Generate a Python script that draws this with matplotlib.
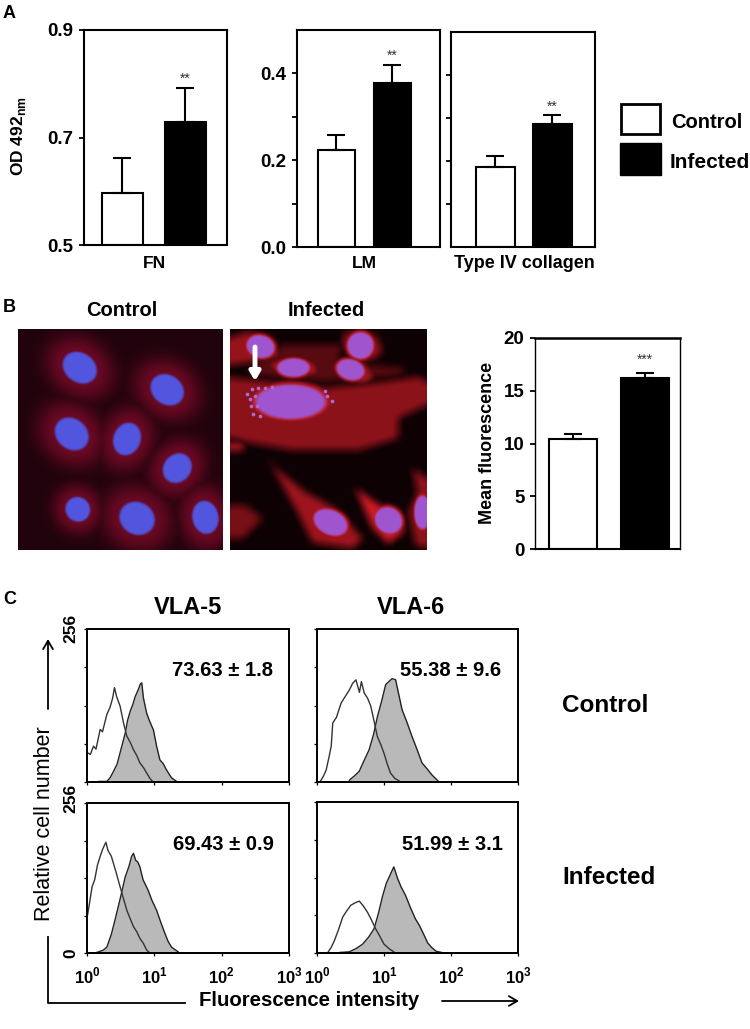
import numpy as np
import matplotlib
matplotlib.use("Agg")
import matplotlib.pyplot as plt
from matplotlib.patches import Rectangle
from matplotlib.path import Path

plt.rcParams['font.family'] = ['Liberation Sans', 'DejaVu Sans']
plt.rcParams['mathtext.fontset'] = 'custom'
plt.rcParams['mathtext.rm'] = 'Liberation Sans'
plt.rcParams['mathtext.bf'] = 'Liberation Sans:bold'

W, H = 750, 1029

# panel A values
fn_means = [0.597, 0.729]
fn_tops = [0.662, 0.792]
lm_means = [0.224, 0.379]
lm_tops = [0.257, 0.420]
col_means = [0.186, 0.286]
col_tops = [0.212, 0.307]

# panel B values
mf_means = [10.4, 16.2]
mf_tops = [10.9, 16.7]

# micrograph contents: x, y, long side, short side, angle (figure pixels)
control_nuclei = [(79, 368, 36, 29, 35), (166, 390, 35, 29, 35), (71, 434, 36, 30, 40),
                  (126, 439, 33, 27, -70), (176, 468, 31, 27, -50), (77, 509, 25, 24, 45),
                  (136, 518, 36, 32, 30), (204, 517, 33, 26, 80)]
infected_nuclei = [(260, 347, 28, 22, 15), (360, 346, 26, 26, 0), (293, 368, 32, 18, 0),
                   (350, 370, 28, 20, 15), (290, 402, 70, 34, 0), (330, 522, 35, 24, 25),
                   (388, 520, 28, 25, 35), (422, 512, 16, 33, 0)]
infected_cells = [
    [(230, 378), (252, 380), (325, 388), (382, 382), (418, 377), (427, 382), (427, 405), (398, 418), (398, 438),
     (358, 450), (292, 450), (245, 442), (230, 438)],
    [(230, 338), (248, 332), (272, 338), (282, 358), (258, 362), (230, 365)],
    [(345, 332), (375, 335), (382, 352), (372, 360), (352, 362), (342, 345)],
    [(282, 345), (342, 345), (338, 362), (402, 368), (405, 375), (325, 382), (245, 375), (258, 362)],
    [(268, 362), (292, 355), (315, 362), (320, 375), (288, 380), (268, 368)],
    [(328, 363), (358, 358), (375, 375), (365, 385), (342, 380)],
    [(267, 455), (275, 468), (305, 492), (335, 508), (362, 538), (352, 548), (312, 542), (297, 512), (275, 472)],
    [(355, 488), (375, 502), (402, 518), (403, 532), (388, 543), (372, 528)],
    [(412, 468), (427, 478), (427, 548), (415, 545), (408, 512), (417, 492)],
    [(230, 505), (245, 505), (262, 518), (242, 538), (230, 538)],
    [(230, 442), (245, 442), (242, 451), (230, 451)],
]
infected_levels = [0.6, 0.65, 0.65, 0.35, 0.7, 0.7, 0.68, 0.9, 0.6, 0.5, 0.7]
speckles_x = [247, 252, 258, 265, 250, 255, 251, 257, 253, 260, 272, 325, 332, 327]
speckles_y = [393, 388, 387, 387, 398, 395, 405, 405, 413, 415, 386, 390, 400, 395]

# panel C histograms: fluorescence intensity, cell count
v5c_open_x = [1.02, 1.12, 1.25, 1.36, 1.57, 1.70, 1.97, 2.2, 2.4, 2.56, 2.75, 3.1, 3.5, 3.9, 4.4, 4.9, 5.5, 6.1, 6.9, 7.7, 8.6, 9.4]
v5c_open_y = [49, 46, 60, 55, 88, 84, 113, 125, 140, 158, 143, 127, 98, 77, 66, 54, 44, 32, 24, 15, 6, 1]
v5c_fill_x = [1.5, 1.97, 2.2, 2.48, 2.8, 3.1, 3.4, 3.7, 4.0, 4.4, 4.8, 5.2, 5.8, 6.2, 6.5, 6.9, 7.7, 8.5, 9.7, 10.8, 12.1, 13.5, 15.2, 18, 21.4]
v5c_fill_y = [1, 1, 7, 18, 30, 49, 66, 82, 103, 119, 130, 143, 155, 164, 166, 140, 115, 102, 87, 60, 37, 31, 20, 7, 1]
v5i_open_x = [1.02, 1.1, 1.19, 1.3, 1.43, 1.57, 1.72, 1.82, 1.91, 2.05, 2.3, 2.7, 3.1, 3.5, 3.9, 4.4, 4.9, 5.5, 6.1, 6.9, 7.7, 8.6]
v5i_open_y = [65, 88, 113, 125, 150, 165, 178, 184, 189, 175, 165, 138, 113, 92, 73, 58, 45, 36, 25, 16, 5, 0]
v5i_fill_x = [1.3, 1.49, 1.75, 1.97, 2.3, 2.6, 3.1, 3.7, 4.2, 4.6, 4.9, 5.3, 5.7, 6.1, 6.8, 8.1, 9.2, 10.8, 12.5, 14.4, 16, 18, 22.6]
v5i_fill_y = [0, 2, 5, 10, 32, 56, 92, 130, 148, 165, 170, 158, 155, 147, 125, 107, 90, 73, 52, 33, 20, 10, 2]
v6c_open_x = [1.12, 1.25, 1.37, 1.5, 1.63, 1.72, 1.95, 2.29, 2.6, 3.04, 3.4, 3.81, 4.3, 4.6, 5.06, 5.7, 6.35, 7.1, 7.96, 9, 10, 11.2, 12.5, 14.5, 16.7]
v6c_open_y = [1, 10, 20, 40, 60, 99, 108, 132, 142, 154, 165, 171, 150, 168, 149, 140, 127, 102, 76, 62, 48, 30, 15, 6, 2]
v6c_fill_x = [3.04, 3.6, 4.27, 5.0, 6.0, 7.0, 8.0, 9.2, 10.6, 11.8, 13.2, 14.9, 16.5, 18.6, 22, 26.2, 31, 36.9, 44, 51.8, 65]
v6c_fill_y = [3, 10, 18, 35, 54, 80, 110, 135, 163, 168, 173, 171, 148, 121, 100, 76, 55, 32, 22, 12, 1]
v6i_open_x = [1.45, 1.62, 1.82, 2.1, 2.42, 2.8, 3.2, 3.7, 4.27, 4.9, 5.67, 6.5, 7.5, 8.7, 10, 12, 14]
v6i_open_y = [1, 9, 21, 40, 61, 72, 81, 85, 88, 80, 69, 56, 41, 28, 15, 7, 2]
v6i_fill_x = [2.2, 3.04, 3.9, 4.79, 5.9, 7.1, 8.2, 9.45, 10.8, 12.3, 14, 16, 18, 20.9, 25, 29.4, 34, 39, 45, 51.8, 60, 72]
v6i_fill_y = [1, 2, 8, 15, 27, 41, 66, 95, 118, 132, 146, 126, 112, 98, 76, 58, 46, 32, 17, 9, 3, 1]

v5_values = ["73.63 \u00b1 1.8", "69.43 \u00b1 0.9"]
v6_values = ["55.38 \u00b1 9.6", "51.99 \u00b1 3.1"]
decade_labels = ["10$^{\\mathregular{0}}$", "10$^{\\mathregular{1}}$", "10$^{\\mathregular{2}}$", "10$^{\\mathregular{3}}$"]

fig = plt.figure(figsize=(W / 100, H / 100), dpi=100, facecolor="white")


def px_axes(x0, y0, x1, y1):
    return fig.add_axes([x0 / W, 1 - y1 / H, (x1 - x0) / W, (y1 - y0) / H])


def bar_panel(box, ylim, means, tops, centers, width, star_y, star, lw=1.5):
    ax = px_axes(*box)
    ax.set_xlim(box[0], box[2])
    ax.set_ylim(*ylim)
    for c, m, t, col in zip(centers, means, tops, ["white", "black"]):
        ax.bar(c, m - ylim[0], width, bottom=ylim[0], facecolor=col, edgecolor="black", linewidth=lw)
        ax.errorbar(c, m, yerr=[[0], [t - m]], color="black", capsize=6.5, elinewidth=lw, capthick=lw)
    ax.text(centers[1], star_y, star, ha="center", va="center", fontsize=10, color="#333333")
    ax.set_xticks([])
    ax.tick_params(axis="y", width=1.3, length=3.5, labelsize=13.5, pad=4)
    for s in ax.spines.values():
        s.set_linewidth(lw)
    return ax


# panel A
ax = bar_panel((84, 30, 227, 245), (0.5, 0.9), fn_means, fn_tops, [122, 185], 41, 0.81, "**")
ax.set_yticks([0.5, 0.7, 0.9], ["0.5", "0.7", "0.9"], fontweight="bold")
ax = bar_panel((297, 30, 440, 247), (0, 0.5), lm_means, lm_tops, [336, 392], 37, 0.44, "**")
ax.set_yticks([0, 0.1, 0.2, 0.3, 0.4], ["0.0", "", "0.2", "", "0.4"], fontweight="bold")
ax = bar_panel((451, 32, 595, 247), (0, 0.5), col_means, col_tops, [495, 552], 39, 0.327, "**")
ax.set_yticks([0.1, 0.2, 0.3, 0.4], [])

# panel B chart
ax = bar_panel((535, 338, 680, 549), (0, 20), mf_means, mf_tops, [573, 645], 48, 17.9, "***")
ax.set_yticks([0, 5, 10, 15, 20], ["0", "5", "10", "15", "20"], fontweight="bold")
ax.spines["top"].set_linewidth(1.8)
ax.spines["left"].set_linewidth(1.0)
ax.spines["right"].set_linewidth(1.0)


# micrographs
def soft_ellipse(X, Y, cx, cy, w, h, angle, edge):
    a = np.radians(angle)
    u = (X - cx) * np.cos(a) + (Y - cy) * np.sin(a)
    v = -(X - cx) * np.sin(a) + (Y - cy) * np.cos(a)
    r = np.sqrt((u / (w / 2)) ** 2 + (v / (h / 2)) ** 2)
    return np.clip((1 - r) / edge + 0.5, 0, 1), r


def blur(a, n):
    k = np.ones(n) / n
    a = np.apply_along_axis(lambda s: np.convolve(np.pad(s, n, mode="edge"), k, mode="same")[n:-n], 0, a)
    return np.apply_along_axis(lambda s: np.convolve(np.pad(s, n, mode="edge"), k, mode="same")[n:-n], 1, a)


def micrograph(box, nuclei, nucleus_rgb, base, red_rgb, glow, spread, cells=(), levels=()):
    x0, y0, x1, y1 = box
    X, Y = np.meshgrid(np.arange(x0, x1) + 0.5, np.arange(y0, y1) + 0.5)
    pts = np.column_stack([X.ravel(), Y.ravel()])
    red = np.zeros_like(X)
    for poly, lev in zip(cells, levels):
        mask = Path(poly).contains_points(pts).reshape(X.shape)
        red = np.maximum(red, lev * blur(mask.astype(float), 11))
    for cx, cy, w, h, ang in nuclei:
        _, r = soft_ellipse(X, Y, cx, cy, w, h, ang, 0.2)
        red = np.maximum(red, glow * np.exp(-(np.maximum(r - 1, 0) / spread) ** 2))
    img = np.zeros(X.shape + (3,))
    for i in range(3):
        img[..., i] = base[i] + red * (red_rgb[i] - base[i])
    for cx, cy, w, h, ang in nuclei:
        m = soft_ellipse(X, Y, cx, cy, w, h, ang, 0.14)[0][..., None]
        img = img * (1 - m) + np.array(nucleus_rgb) * m
    ax = px_axes(x0, y0, x1, y1)
    ax.imshow(blur(img, 2).astype(np.uint8), aspect="auto", interpolation="bilinear")
    ax.axis("off")
    return ax


micrograph((18, 329, 222, 550), control_nuclei, (82, 85, 222), (32, 3, 12), (150, 12, 50), 0.62, 1.1)
ax = micrograph((230, 329, 427, 550), infected_nuclei, (158, 85, 205), (14, 1, 3), (225, 30, 42), 0.85, 0.25,
                infected_cells, infected_levels)
ax.scatter(np.array(speckles_x) - 230, np.array(speckles_y) - 329, s=7, color="#a86cd6", linewidths=0)


# panel C
def flow_panel(box, open_x, open_y, fill_x, fill_y, tick_labels=False):
    ax = px_axes(*box)
    ax.set_xscale("log")
    ax.set_xlim(1, 1000)
    ax.set_ylim(0, 256)
    ax.fill_between(fill_x, fill_y, color="#b9b9b9", linewidth=0)
    ax.plot(fill_x, fill_y, color="#222222", linewidth=1.0)
    ax.plot(open_x, open_y, color="#333333", linewidth=1.0)
    ax.axhline(0, color="#222222", linewidth=1.4, clip_on=False)
    ax.set_xticks([1, 10, 100, 1000])
    ax.set_xticks([], minor=True)
    ax.set_xticklabels(decade_labels if tick_labels else ["", "", "", ""], fontsize=12, fontweight="bold")
    ax.set_yticks([0, 64, 128, 192, 256], [])
    ax.tick_params(width=0.9, length=2.5, pad=7)
    for s in ax.spines.values():
        s.set_linewidth(1.4)


flow_panel((87, 629, 289, 782), v5c_open_x, v5c_open_y, v5c_fill_x, v5c_fill_y)
flow_panel((87, 803, 289, 953), v5i_open_x, v5i_open_y, v5i_fill_x, v5i_fill_y, True)
flow_panel((317, 629, 518, 782), v6c_open_x, v6c_open_y, v6c_fill_x, v6c_fill_y)
flow_panel((317, 802, 518, 953), v6i_open_x, v6i_open_y, v6i_fill_x, v6i_fill_y, True)

# overlay in figure pixels for labels, legend and arrows
ov = fig.add_axes([0, 0, 1, 1], zorder=10)
ov.set_xlim(0, W)
ov.set_ylim(H, 0)
ov.axis("off")


def label(x, y, s, size=12, weight="bold", ha="center", rot=0, color="black"):
    ov.text(x, y, s, fontsize=size, fontweight=weight, ha=ha, va="center", rotation=rot, color=color)


label(3, 13, "A", 13, ha="left")
label(3, 307, "B", 13, ha="left")
label(3, 600, "C", 13, ha="left")

label(18, 136, "OD 492$_{\\mathbf{nm}}$", 12.5, rot=90)
label(154, 264, "FN", 12.5)
label(364, 264, "LM", 12.5)
label(524, 264, "Type IV collagen", 13)
ov.add_patch(Rectangle((621, 104), 39, 30, facecolor="white", edgecolor="black", linewidth=2))
ov.add_patch(Rectangle((620, 143), 41, 32, facecolor="black", edgecolor="black", linewidth=1))
label(671, 122, "Control", 14.5, ha="left")
label(670, 162, "Infected", 15, ha="left")

label(122, 310, "Control", 14.5)
label(326, 310, "Infected", 14.5)
label(487, 443, "Mean fluorescence", 13, rot=90)
ov.annotate("", xy=(255, 381), xytext=(255, 347),
            arrowprops=dict(arrowstyle="-|>,head_width=0.3,head_length=0.5", color="white", lw=3.5, shrinkA=0, shrinkB=0))

label(188, 608, "VLA-5", 17)
label(411, 608, "VLA-6", 17)
label(562, 705, "Control", 17.5, ha="left")
label(562, 877, "Infected", 17.5, ha="left")
label(223, 670, v5_values[0], 14.5)
label(223, 845, v5_values[1], 14.5)
label(451, 670, v6_values[0], 14.5)
label(452, 845, v6_values[1], 14.5)
label(71, 628, "256", 12.5, rot=90)
label(71, 798, "256", 12.5, rot=90)
label(71, 953, "0", 12.5, rot=90)
label(45, 824, "Relative cell number", 15.5, weight="normal", rot=90)
label(309, 1000, "Fluorescence intensity", 14.7)

ov.plot([48, 48, 185], [937, 1003, 1003], color="black", linewidth=1.3)
ov.annotate("", xy=(48, 639), xytext=(48, 709),
            arrowprops=dict(arrowstyle="->,head_width=0.35,head_length=0.6", color="black", lw=1.3, shrinkA=0, shrinkB=0))
ov.annotate("", xy=(519, 1001), xytext=(442, 1001),
            arrowprops=dict(arrowstyle="->,head_width=0.35,head_length=0.6", color="black", lw=1.3, shrinkA=0, shrinkB=0))

fig.savefig("out.png", dpi=100, facecolor="white")
